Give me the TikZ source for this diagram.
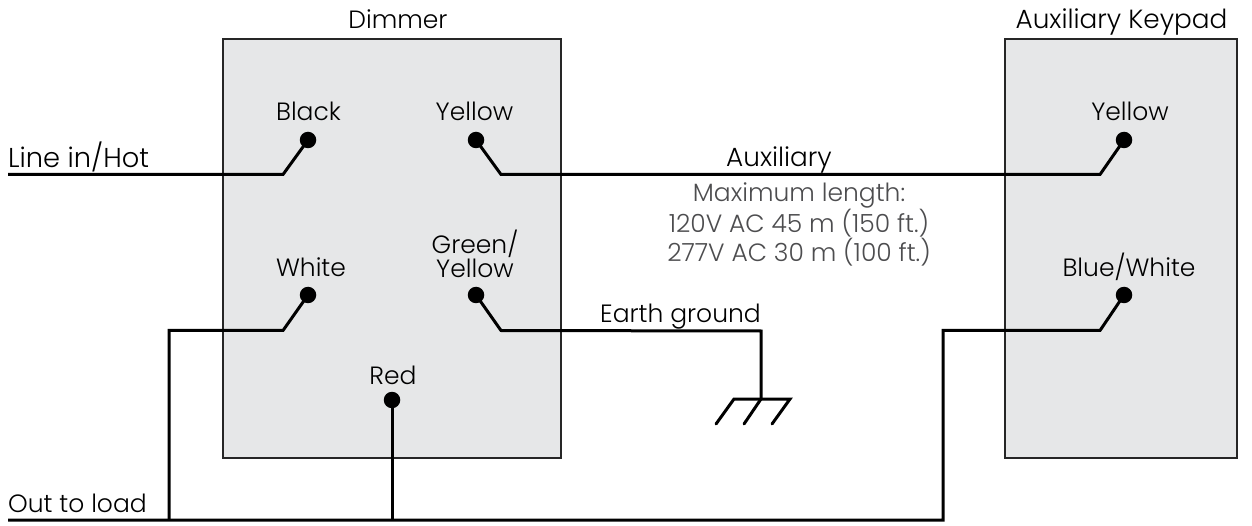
\documentclass[tikz,border=0pt]{standalone}
\usepackage{fontspec}
\setmainfont{Poppins}[UprightFont=* Light]
\definecolor{boxgrey}{HTML}{E6E7E8}
\definecolor{notegrey}{HTML}{4D4D4F}
\tikzset{
  x=1pt,y=-1pt,
  panel/.style={draw=black!85,line width=2.2pt,fill=boxgrey},
  term/.style={circle,fill=black,inner sep=0pt,minimum size=16.5pt},
  wire/.style={line width=3pt,draw=black,line join=miter},
  lab/.style={font=\fontsize{25}{28}\selectfont,text=black,inner sep=0pt,anchor=base},
  widelab/.style={lab,font=\fontsize{26.3}{28}\selectfont},
  note/.style={font=\fontsize{25}{29}\selectfont,text=notegrey,inner sep=0pt,align=center},
  leftlab/.style={lab,anchor=base west}
}
\begin{document}
\begin{tikzpicture}
\useasboundingbox (0,0) rectangle (1252,526);
\fill[white] (0,0) rectangle (1252,526);
% panels
\node[panel,minimum width=338pt,minimum height=419pt,inner sep=0pt,anchor=north west] (dimmer) at (222,38) {};
\node[panel,minimum width=232pt,minimum height=419pt,inner sep=0pt,anchor=north west] (keypad) at (1004,38) {};
\node[lab] (dimmerlab) at (398,28.5) {Dimmer};
\node[widelab] (keypadlab) at (1121.5,28.5) {Auxiliary Keypad};
% terminals
\node[term] (black) at (308,140) {};
\node[term] (yellow) at (476,140) {};
\node[term] (white) at (308,295) {};
\node[term] (greenyellow) at (476,295) {};
\node[term] (red) at (392,400) {};
\node[term] (kyellow) at (1124,140) {};
\node[term] (kblue) at (1124,295) {};
% terminal labels
\node[lab] at (308.5,121) {Black};
\node[lab] at (474.5,121) {Yellow};
\node[lab] at (311,277) {White};
\node[lab] at (475,254) {Green/};
\node[lab] at (475,278) {Yellow};
\node[lab] at (393,384) {Red};
\node[lab] at (1130,121) {Yellow};
\node[lab] at (1129,277) {Blue/White};
% free labels
\node[leftlab,font=\fontsize{27.3}{28}\selectfont] at (8,168) {Line in/Hot};
\node[leftlab] at (8,512.5) {Out to load};
\node[widelab] at (779,167) {Auxiliary};
\node[lab] at (680.5,323) {Earth ground};
\node[note] at (799,224.5) {Maximum length:\\120V AC 45 m (150 ft.)\\277V AC 30 m (100 ft.)};
% free ends and bends
\coordinate (linein) at (8,174.5);
\coordinate (outload) at (8,520);
\coordinate (gndtop) at (761,331);
\coordinate (gndbar) at (761,399);
\coordinate (ga) at (734,399);
\coordinate (gb) at (790,399);
\coordinate (gc) at (716,424);
\coordinate (gd) at (744,424);
\coordinate (ge) at (772,424);
% wires
\draw[wire] (linein) -- (283,174.5) -- (black.center);
\draw[wire] (yellow.center) -- (501,174.5) -- (1100,174.5) -- (kyellow.center);
\draw[wire] (outload) -- (943,520) -- (943,330.5) -- (1100,330.5) -- (kblue.center);
\draw[wire] (169,520) -- (169,330.5) -- (283,330.5) -- (white.center);
\draw[wire] (greenyellow.center) -- (501,330.5) -- (gndtop) -- (gndbar);
\draw[wire] (red.center) -- (392,520);
% ground symbol
\draw[wire,line cap=round] (gc) -- (ga) -- (gb) -- (ge);
\draw[wire,line cap=round] (gd) -- (gndbar);
\end{tikzpicture}
\end{document}
